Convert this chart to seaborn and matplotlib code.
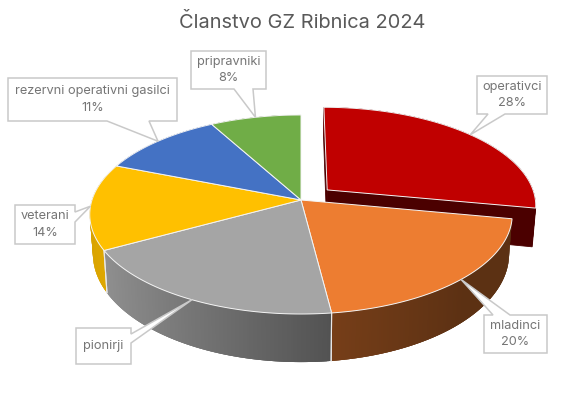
import numpy as np
import matplotlib
matplotlib.use("Agg")
import matplotlib.pyplot as plt
import seaborn as sns

# ----------------------------
# DATA
# ----------------------------
categories = ["operativci", "mladinci", "pionirji", "veterani",
              "rezervni operativni gasilci", "pripravniki"]
shares = [28, 20, 19, 14, 11, 8]
show_share = [True, True, False, True, True, True]
title_text = "Članstvo GZ Ribnica 2024"

# ----------------------------
# LOOK
# ----------------------------
slice_colors = sns.color_palette(["#C00000", "#ED7D31", "#A5A5A5", "#FFC000", "#4472C4", "#70AD47"])
exploded = [0.165, 0, 0, 0, 0, 0]

# label boxes in pixels: box, side the pointer leaves from, pointer base
callouts = [
    ((477, 76, 547, 114), "bottom", (505, 488)),
    ((484, 315, 547, 353), "top", (493, 510)),
    ((76, 328, 131, 364), "right", (334, 343)),
    ((15, 205, 75, 244), "right", (212, 222)),
    ((8, 78, 177, 121), "bottom", (149, 107)),
    ((191, 51, 266, 89), "bottom", (253, 234)),
]

sns.set_theme(style="white")
plt.rcParams["font.family"] = ["Inter", "DejaVu Sans"]

fig = plt.figure(figsize=(5.66, 4.0), dpi=100)
ax = fig.add_axes([0, 0, 1, 1])
ax.set_xlim(0, 566)
ax.set_ylim(400, 0)
ax.axis("off")


# ----------------------------
# 3D PIE PROJECTION
# ----------------------------
def project(u, v, z=0.0):
    # disc coords to pixels, z=0 is the top face and z=1 the bottom face
    persp = 1 + 0.1457 * v
    x = 301 + 209 * (1 - 0.015 * z) * u / persp
    y = 200 + 38 * z - (97.4 + 8.6 * z) * v / persp
    return x, y


def wall_shade(u):
    return np.interp(u, [-1, -0.88, 0.125, 0.7, 1], [0.85, 0.87, 0.5, 0.39, 0.39])


def darker(color, factor):
    return tuple(c * factor for c in color)


edges = np.cumsum([0] + shares) * 3.6


def draw_slice(i):
    start, stop = np.radians(edges[i]), np.radians(edges[i + 1])
    mid = (start + stop) / 2
    off_u = exploded[i] * np.sin(mid)
    off_v = exploded[i] * np.cos(mid)
    color = slice_colors[i]
    angles = np.linspace(start, stop, int(edges[i + 1] - edges[i]) * 2 + 2)
    us = np.sin(angles) + off_u
    vs = np.cos(angles) + off_v

    # cut faces are only seen when the slice is pulled out
    if exploded[i] > 0:
        for a in (0, -1):
            x1, y1 = project(off_u, off_v)
            x2, y2 = project(us[a], vs[a])
            x3, y3 = project(us[a], vs[a], 1)
            x4, y4 = project(off_u, off_v, 1)
            ax.fill([x1, x2, x3, x4], [y1, y2, y3, y4], color=darker(color, 0.39), lw=0.6, zorder=1 + i)

    # outer wall, each strip runs on under the next one so no seams show
    for k in range(len(angles) - 1):
        end = min(k + 3, len(angles) - 1)
        top = project(us[k:end + 1], vs[k:end + 1])
        bottom = project(us[k:end + 1], vs[k:end + 1], 1)
        xs = np.r_[top[0], bottom[0][::-1]]
        ys = np.r_[top[1], bottom[1][::-1]]
        shade = darker(color, wall_shade(np.sin(angles[k])))
        ax.fill(xs, ys, facecolor=shade, edgecolor="none", lw=0, zorder=1 + i)

    # white seams where front walls meet
    for a in (angles[0], angles[-1]):
        if np.cos(a) < 0 and exploded[i] == 0 and a > np.radians(edges[1]) + 0.01:
            x1, y1 = project(np.sin(a), np.cos(a))
            x2, y2 = project(np.sin(a), np.cos(a), 1)
            ax.plot([x1, x2], [y1, y2], color="#e8e8e8", lw=0.8, zorder=9)


def draw_top(i):
    start, stop = np.radians(edges[i]), np.radians(edges[i + 1])
    mid = (start + stop) / 2
    off_u = exploded[i] * np.sin(mid)
    off_v = exploded[i] * np.cos(mid)
    angles = np.linspace(start, stop, 120)
    us = np.r_[off_u, np.sin(angles) + off_u]
    vs = np.r_[off_v, np.cos(angles) + off_v]
    xs, ys = project(us, vs)
    ax.fill(xs, ys, facecolor=slice_colors[i], edgecolor="#f4f4f4", lw=0.7, zorder=10 + (i > 0))


# red slice goes behind the rest of the pie
draw_slice(0)
draw_top(0)
for i in range(1, len(shares)):
    draw_slice(i)
for i in range(1, len(shares)):
    draw_top(i)


# ----------------------------
# LABELS
# ----------------------------
def draw_callout(i):
    (x0, y0, x1, y1), side, (b1, b2) = callouts[i]
    mid = np.radians((edges[i] + edges[i + 1]) / 2)
    tip = project(np.sin(mid) + exploded[i] * np.sin(mid), np.cos(mid) + exploded[i] * np.cos(mid))

    if side == "bottom":
        pts = [(x0, y0), (x1, y0), (x1, y1), (b1, y1), tip, (b2, y1), (x0, y1)]
    elif side == "top":
        pts = [(x0, y0), (b1, y0), tip, (b2, y0), (x1, y0), (x1, y1), (x0, y1)]
    else:
        pts = [(x0, y0), (x1, y0), (x1, b1), tip, (x1, b2), (x1, y1), (x0, y1)]
    xs, ys = zip(*pts)
    ax.fill(xs, ys, facecolor="white", edgecolor="#c9c9c9", lw=1.1, joinstyle="miter", zorder=20)

    text = categories[i]
    if show_share[i]:
        text = f"{text}\n{shares[i]}%"
    ax.text((x0 + x1) / 2, (y0 + y1) / 2, text, ha="center", va="center", fontsize=9.2,
            color="#757575", linespacing=1.45, zorder=21)


for i in range(len(shares)):
    draw_callout(i)

ax.text(302, 23, title_text, ha="center", va="center", fontsize=14.4, color="#595959", zorder=21)

fig.savefig("out.png", dpi=100, facecolor="white")
plt.close(fig)
